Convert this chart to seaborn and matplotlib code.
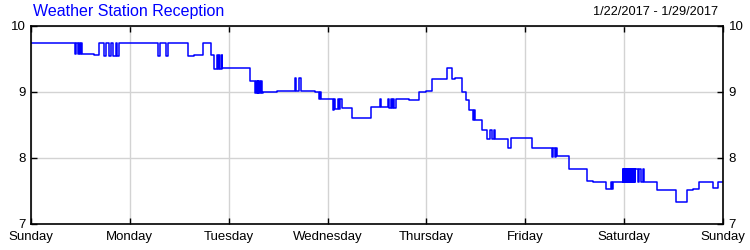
import matplotlib
matplotlib.use("Agg")
import matplotlib.pyplot as plt
import seaborn as sns
import pandas as pd

title = "Weather Station Reception"
date_range = "1/22/2017 - 1/29/2017"
day_labels = ["Sunday", "Monday", "Tuesday", "Wednesday", "Thursday", "Friday", "Saturday", "Sunday"]
y_ticks = [7, 8, 9, 10]

# hours since Sunday 00:00, reception value (step changes)
hours = [
    0, 10.7, 11.0, 11.3, 11.65, 11.9, 12.1, 12.4, 15.3, 16.5, 17.7, 18.2, 19.05, 19.4, 19.9,
    20.6, 20.9, 21.4, 30.8, 31.3, 32.8, 33.3, 38.1, 39.5, 41.75, 43.7, 44.4, 45.15, 45.5,
    45.75, 46.0, 46.25, 46.45, 50.25, 53.2, 54.4, 54.6, 54.8, 55.0, 55.2, 55.4, 55.6, 55.8,
    56.0, 56.3, 59.7, 62.6, 64.1, 64.4, 65.0, 65.5, 65.8, 68.2, 68.9, 69.9, 70.1, 70.4,
    73.3, 73.6, 73.9, 74.5, 74.8, 75.1, 75.4, 77.9, 82.5, 84.8, 85.0, 86.7, 87.0, 87.3,
    87.6, 87.9, 88.2, 88.5, 88.85, 91.8, 94.2, 96.0, 97.35, 101.0, 102.2, 102.9, 104.6,
    105.6, 106.35, 107.3, 107.5, 107.7, 108.0, 109.5, 110.7, 111.45, 111.8, 112.4, 112.7,
    115.8, 116.5, 121.6, 126.5, 126.8, 127.1, 127.4, 127.7, 130.6, 135.0, 136.4, 139.6,
    140.8, 141.0, 141.3,
    143.7, 143.8, 143.9, 144.0, 144.1, 144.2, 144.3, 144.4, 144.5, 144.6, 144.7, 144.8,
    144.9, 145.0, 145.1, 145.2, 145.3, 145.4, 145.5, 145.6, 145.7, 145.8, 145.9, 146.0,
    146.1, 146.2, 146.3, 146.4, 146.5, 146.6, 146.7, 146.8,
    147.3, 147.6, 148.2, 148.5, 148.8, 149.05, 152.0, 156.6, 159.3, 160.7, 162.2, 165.6,
    166.9, 168.0,
]
reception = [
    9.75, 9.57, 9.75, 9.57, 9.75, 9.57, 9.75, 9.57, 9.56, 9.75, 9.55, 9.75, 9.55, 9.75, 9.55,
    9.75, 9.55, 9.75, 9.55, 9.75, 9.55, 9.75, 9.55, 9.56, 9.75, 9.56, 9.35, 9.56, 9.35,
    9.56, 9.35, 9.56, 9.36, 9.37, 9.17, 8.98, 9.17, 8.98, 9.17, 8.98, 9.17, 8.98, 9.17,
    8.98, 9.0, 9.02, 9.01, 9.21, 9.01, 9.21, 9.01, 9.02, 9.01, 9.0, 8.89, 9.0, 8.89,
    8.73, 8.89, 8.75, 8.9, 8.75, 8.9, 8.76, 8.60, 8.78, 8.9, 8.77, 8.9, 8.76, 8.9,
    8.76, 8.9, 8.76, 8.9, 8.90, 8.88, 9.0, 9.02, 9.20, 9.37, 9.20, 9.21, 9.0,
    8.88, 8.72, 8.58, 8.72, 8.58, 8.58, 8.42, 8.29, 8.42, 8.29, 8.42, 8.29,
    8.15, 8.30, 8.15, 8.02, 8.15, 8.02, 8.15, 8.03, 7.84, 7.65, 7.64, 7.53,
    7.64, 7.53, 7.64,
    7.84, 7.64, 7.84, 7.64, 7.84, 7.64, 7.84, 7.64, 7.84, 7.64, 7.84, 7.64,
    7.84, 7.64, 7.84, 7.64, 7.84, 7.64, 7.84, 7.64, 7.84, 7.64, 7.84, 7.64,
    7.84, 7.64, 7.84, 7.64, 7.84, 7.64, 7.84, 7.84,
    7.64, 7.84, 7.64, 7.84, 7.64, 7.64, 7.52, 7.34, 7.52, 7.53, 7.64, 7.54,
    7.64, 7.64,
]

df = pd.DataFrame({"hours": hours, "reception": reception})

sns.set_style("white")
plt.rcParams["font.family"] = ["Liberation Sans", "DejaVu Sans"]

fig = plt.figure(figsize=(7.5, 2.5), dpi=100)
ax = fig.add_axes([31 / 750, 1 - 224 / 250, 692 / 750, 198 / 250])

sns.lineplot(data=df, x="hours", y="reception", sort=False, estimator=None,
             drawstyle="steps-post", color="#0000ff", linewidth=1.1, ax=ax)

ax.set_xlim(0, 168)
ax.set_ylim(7, 10)
ax.set_xticks([24 * i for i in range(len(day_labels))])
ax.set_xticklabels(day_labels)
ax.set_yticks(y_ticks)
ax.set_yticklabels([str(v) for v in y_ticks])
ax.set_xlabel("")
ax.set_ylabel("")

ax.grid(True, color="#d3d3d3", linewidth=1.0)
ax.set_axisbelow(True)
for s in ax.spines.values():
    s.set_visible(True)
    s.set_color("black")
    s.set_linewidth(1.2)

ax.tick_params(axis="both", which="both", direction="in", length=4, width=1,
               colors="black", labelsize=9.5,
               top=True, bottom=True, left=True, right=True,
               labelleft=True, labelright=True, labelbottom=True, labeltop=False)
ax.tick_params(axis="x", pad=5)
ax.tick_params(axis="y", pad=4)

fig.text(33 / 750, 1 - 4 / 250, title, color="#0000ff", fontsize=11.5,
         ha="left", va="top")
fig.text(718 / 750, 1 - 6 / 250, date_range, color="black", fontsize=9.2,
         ha="right", va="top")

fig.savefig("out.png", dpi=100)
